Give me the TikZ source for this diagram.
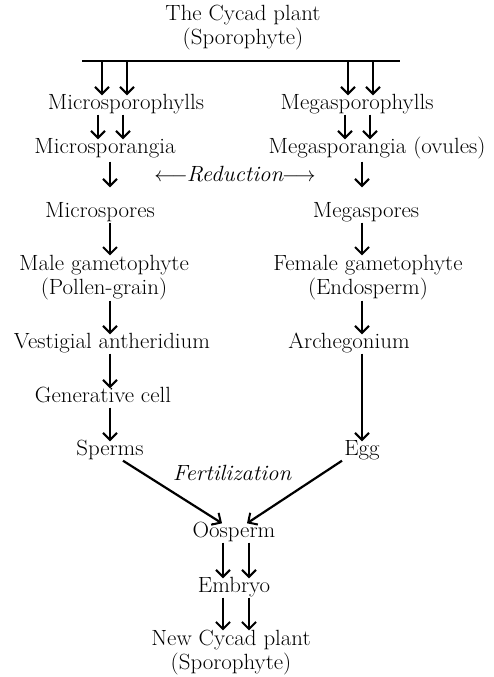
\documentclass[tikz,border=0pt]{standalone}
\usepackage{fontspec}
\setmainfont{Latin Modern Roman}[FakeStretch=1.04]
\usetikzlibrary{arrows.meta,calc}

\begin{document}
\begin{tikzpicture}[
  x=1pt, y=-1pt,
  txt/.style={font=\fontsize{22}{24}\selectfont, inner sep=0pt, text height=14pt, text depth=5pt},
  twoline/.style={font=\fontsize{22}{24}\selectfont, inner sep=0pt, align=center},
  lbl/.style={font=\fontsize{22}{24}\selectfont\itshape, inner sep=0pt},
  arr/.style={-{Straight Barb[length=7pt, width=14pt, line width=2pt]}, line width=2.2pt},
  bar/.style={line width=2.2pt},
]
\useasboundingbox (0,0) rectangle (493,677);

% ===== columns for the single arrows =====
\coordinate (colL) at (110,0);
\coordinate (colR) at (362,0);

% ===== top: the plant and its bar =====
\node[twoline] (plant) at (243,28) {The Cycad plant\\(Sporophyte)};
\coordinate (barL) at (82,61);
\coordinate (barR) at (400,61);
\draw[bar] (barL) -- (barR);

% ===== sporophylls and sporangia =====
\node[txt] (micphyll) at (126,105) {Microsporophylls};
\node[txt] (megphyll) at (357,105) {Megasporophylls};
\node[txt] (micsporang) at (105,149) {Microsporangia};
\node[txt] (megsporang) at (377,149) {Megasporangia (ovules)};

\foreach \dx in {-24,1}
  \draw[arr] ($(micphyll.north |- barL)+(\dx,0)$) -- ([xshift=\dx pt]micphyll.north);
\foreach \dx in {-9,16}
  \draw[arr] ($(megphyll.north |- barL)+(\dx,0)$) -- ([xshift=\dx pt]megphyll.north);
\foreach \dx in {-28,-3}
  \draw[arr] ([xshift=\dx pt]micphyll.south) -- ($(micsporang.north -| micphyll)+(\dx,0)$);
\foreach \dx in {-12,13}
  \draw[arr] ([xshift=\dx pt]megphyll.south) -- ($(megsporang.north -| megphyll)+(\dx,0)$);

% ===== spores =====
\node[txt] (micspore) at (100,213) {Microspores};
\node[txt] (megspore) at (366,213) {Megaspores};
\node[lbl] (reduct) at (235,174) {$\longleftarrow$\kern-1pt\textit{Reduction}\kern-1pt$\longrightarrow$};
\draw[arr, shorten <=3pt, shorten >=16pt] (colL |- micsporang.south) -- (colL |- micspore.north);
\draw[arr, shorten <=3pt, shorten >=16pt] (colR |- megsporang.south) -- (colR |- megspore.north);

% ===== gametophytes =====
\node[twoline] (malegam) at (104,278) {Male gametophyte\\(Pollen-grain)};
\node[twoline] (femgam) at (368,278) {Female gametophyte\\(Endosperm)};
\draw[arr] (colL |- micspore.south) -- (colL |- malegam.north);
\draw[arr] (colR |- megspore.south) -- (colR |- femgam.north);

% ===== left branch down to sperms =====
\node[txt] (antherid) at (112,344) {Vestigial antheridium};
\node[txt] (gencell) at (103,398) {Generative cell};
\node[txt] (sperms) at (110,451) {Sperms};
\draw[arr] (colL |- malegam.south) -- (colL |- antherid.north);
\draw[arr] (colL |- antherid.south) -- (colL |- gencell.north);
\draw[arr] (colL |- gencell.south) -- (colL |- sperms.north);

% ===== right branch down to egg =====
\node[txt] (archeg) at (349,344) {Archegonium};
\node[txt] (egg) at (362,451) {Egg};
\draw[arr] (colR |- femgam.south) -- (colR |- archeg.north);
\draw[arr, line width=2.8pt] (colR |- archeg.south) -- (colR |- egg.north);

% ===== fertilization =====
\node[lbl] (fert) at (232,473) {Fertilization};
\node[txt] (oosperm) at (234,533) {O\"osperm};
\draw[arr] ([xshift=13pt]sperms.south) -- ([xshift=-12pt]oosperm.north);
\draw[arr] ([xshift=-20pt]egg.south) -- ([xshift=13pt]oosperm.north);

% ===== embryo and new plant =====
\node[txt] (embryo) at (234,588) {Embryo};
\node[twoline] (newplant) at (231,653) {New Cycad plant\\(Sporophyte)};
\foreach \dx in {-11,15}
  \draw[arr] ([xshift=\dx pt]oosperm.south) -- ($(embryo.north -| oosperm)+(\dx,0)$);
\foreach \dx in {-11,15}
  \draw[arr] ([xshift=\dx pt]embryo.south) -- ($(newplant.north -| embryo)+(\dx,0)$);

\end{tikzpicture}
\end{document}
